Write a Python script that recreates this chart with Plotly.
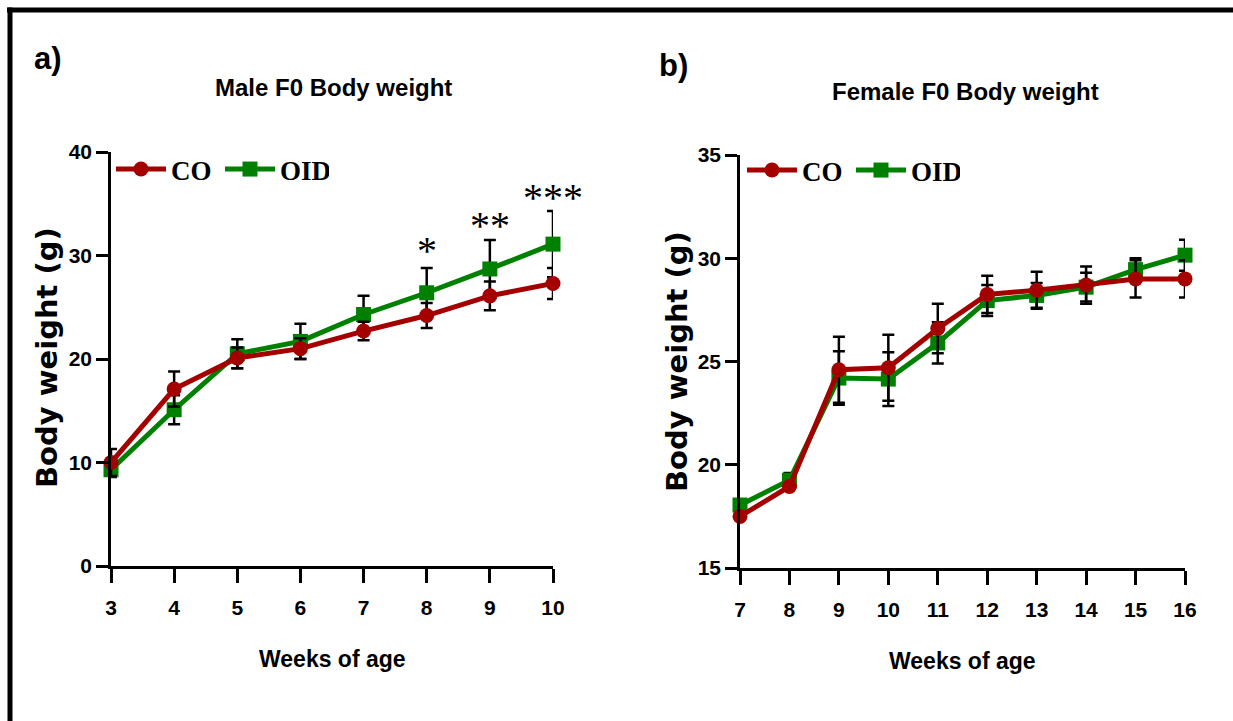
import plotly.graph_objects as go

W, H = 1233, 721

# ---------------- data ----------------
male_weeks = [3, 4, 5, 6, 7, 8, 9, 10]
male_co = [10.0, 17.1, 20.1, 21.0, 22.7, 24.2, 26.1, 27.3]
male_co_err = [1.3, 1.7, 1.0, 1.0, 0.9, 1.2, 1.4, 1.5]
male_oid = [9.3, 15.1, 20.5, 21.7, 24.3, 26.4, 28.7, 31.1]
male_oid_err = [0.7, 1.4, 1.4, 1.7, 1.8, 2.4, 2.8, 3.2]

female_weeks = [7, 8, 9, 10, 11, 12, 13, 14, 15, 16]
female_co = [17.5, 18.95, 24.6, 24.7, 26.6, 28.25, 28.45, 28.7, 29.0, 29.0]
female_co_err = [0.0, 0.0, 1.6, 1.6, 1.2, 0.9, 0.9, 0.9, 0.9, 0.9]
female_oid = [18.05, 19.25, 24.2, 24.15, 25.9, 27.95, 28.2, 28.6, 29.45, 30.15]
female_oid_err = [0.0, 0.35, 1.3, 1.3, 1.0, 0.75, 0.6, 0.7, 0.55, 0.75]

male_sig_weeks = [8, 9, 10]
male_sig_labels = ["*", "**", "***"]
male_sig_y = [30.5, 32.9, 35.6]

CO_COLOR = "#A50000"
OID_COLOR = "#008000"
SANS = "Liberation Sans, Arial, sans-serif"
SERIF = "Liberation Serif, Times New Roman, serif"


def px_x(p):
    return p / W


def px_y(p):
    return 1 - p / H


fig = go.Figure()


def add_series(x, y, err, name, color, symbol, xa, ya, legend, rank):
    fig.add_trace(go.Scatter(
        x=x, y=y, name=name, mode="lines+markers",
        line=dict(color=color, width=5),
        marker=dict(color=color, symbol=symbol, size=15),
        error_y=dict(type="data", array=err, visible=True, color="black",
                     thickness=2.5, width=6),
        xaxis=xa, yaxis=ya, legend=legend, legendrank=rank,
        cliponaxis=False,
    ))


# OID drawn first so CO sits on top
add_series(male_weeks, male_oid, male_oid_err, "OID", OID_COLOR, "square", "x", "y", "legend", 2)
add_series(male_weeks, male_co, male_co_err, "CO", CO_COLOR, "circle", "x", "y", "legend", 1)
add_series(female_weeks, female_oid, female_oid_err, "OID", OID_COLOR, "square", "x2", "y2", "legend2", 2)
add_series(female_weeks, female_co, female_co_err, "CO", CO_COLOR, "circle", "x2", "y2", "legend2", 1)

axis_common = dict(
    showgrid=False, zeroline=False, showline=True, linecolor="black", linewidth=2.5,
    ticks="outside", tickwidth=2.5, tickcolor="black",
    tickfont=dict(family=SANS, size=21, color="black", weight="bold"),
    fixedrange=True,
)

legend_font = dict(family=SERIF, size=27, color="black", weight="bold")

fig.update_layout(
    width=W, height=H,
    margin=dict(l=0, r=0, t=0, b=0, pad=0, autoexpand=False),
    paper_bgcolor="white", plot_bgcolor="white",
    showlegend=True,
    xaxis=dict(domain=[px_x(111), px_x(553)], range=[3, 10], tickvals=male_weeks,
               anchor="y", ticklen=14, ticklabelstandoff=7, **axis_common),
    yaxis=dict(domain=[px_y(566), px_y(152)], range=[0, 40], tickvals=[0, 10, 20, 30, 40],
               anchor="x", ticklen=12, **axis_common),
    xaxis2=dict(domain=[px_x(740), px_x(1185)], range=[7, 16], tickvals=female_weeks,
                anchor="y2", ticklen=14, ticklabelstandoff=7, **axis_common),
    yaxis2=dict(domain=[px_y(568), px_y(155)], range=[15, 35], tickvals=[15, 20, 25, 30, 35],
                anchor="x2", ticklen=12, **axis_common),
    legend=dict(orientation="h", x=px_x(111), y=px_y(145), xanchor="left", yanchor="top",
                font=legend_font, bgcolor="rgba(0,0,0,0)", itemwidth=50,
                entrywidth=44, traceorder="normal"),
    legend2=dict(orientation="h", x=px_x(742), y=px_y(146), xanchor="left", yanchor="top",
                 font=legend_font, bgcolor="rgba(0,0,0,0)", itemwidth=50,
                 entrywidth=44, traceorder="normal"),
)

annotations = []


def txt(text, x, y, size, family=SANS, angle=0, bold=True):
    annotations.append(dict(
        text=text, x=px_x(x), y=px_y(y), xref="paper", yref="paper",
        xanchor="center", yanchor="middle", showarrow=False, textangle=angle,
        font=dict(family=family, size=size, color="black", weight="bold" if bold else "normal"),
    ))


txt("a)", 48, 59, 31)
txt("b)", 673, 66, 31)
txt("Male F0 Body weight", 333, 88, 24)
txt("Female F0 Body weight", 965, 92, 24)
txt("Weeks of age", 332, 659, 23)
txt("Weeks of age", 962, 661, 23)
txt("Body weight (g)", 47, 358, 29, family="DejaVu Sans", angle=-90)
txt("Body weight (g)", 677, 362, 29, family="DejaVu Sans", angle=-90)

for wk, lab, yv in zip(male_sig_weeks, male_sig_labels, male_sig_y):
    annotations.append(dict(
        text=lab, x=wk, y=yv, xref="x", yref="y", xanchor="center", yanchor="middle",
        showarrow=False, font=dict(family=SERIF, size=40, color="black"),
    ))

fig.update_layout(annotations=annotations)

# frame lines (top and left)
fig.add_shape(type="line", xref="paper", yref="paper", x0=px_x(7), x1=1, y0=px_y(10), y1=px_y(10),
              line=dict(color="black", width=5))
fig.add_shape(type="line", xref="paper", yref="paper", x0=px_x(10), x1=px_x(10), y0=px_y(7.5), y1=0,
              line=dict(color="black", width=5))

fig.write_html("out.html")
